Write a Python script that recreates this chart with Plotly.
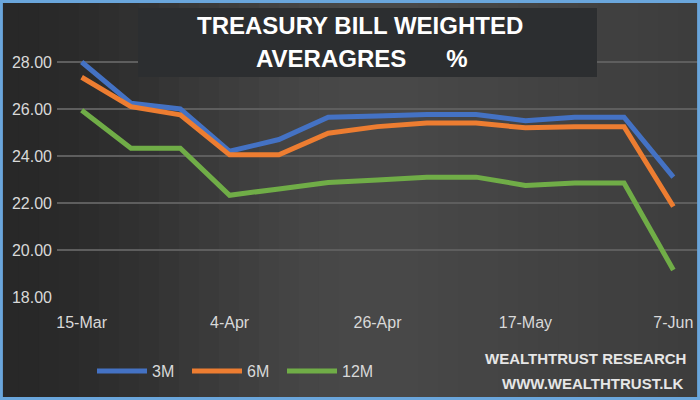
import math
import plotly.graph_objects as go

dates = ["15-Mar", "22-Mar", "29-Mar", "4-Apr", "11-Apr", "19-Apr", "26-Apr",
         "3-May", "10-May", "17-May", "24-May", "31-May", "7-Jun"]
m3 = [28.0, 26.25, 26.0, 24.2, 24.7, 25.65, 25.7, 25.77, 25.77, 25.5, 25.65, 25.65, 23.1]
m6 = [27.35, 26.1, 25.75, 24.05, 24.05, 24.97, 25.25, 25.4, 25.4, 25.2, 25.25, 25.25, 21.85]
m12 = [25.95, 24.33, 24.33, 22.33, 22.6, 22.87, 22.98, 23.1, 23.1, 22.75, 22.85, 22.85, 19.15]
tick_dates = ["15-Mar", "4-Apr", "26-Apr", "17-May", "7-Jun"]
y_ticks = [18, 20, 22, 24, 26, 28]

W, H = 700, 400
FONT = "Liberation Sans, Arial, sans-serif"
TXT = "#d9d9d9"

fig = go.Figure()
series = [("3M", m3, "#4472c4"), ("6M", m6, "#ed7d31"), ("12M", m12, "#70ad47")]
for name, vals, col in series:
    fig.add_trace(go.Scatter(x=dates, y=vals, name=name, mode="lines",
                             line=dict(color=col, width=5)))

# background gradient strips
shapes = []
n = 35
for i in range(n):
    t = (i + 0.5) / n
    v = 0.5 - 0.5 * math.cos(math.pi * min(1.0, t / 0.55)) if t < 0.55 else 1 - 0.35 * (t - 0.55) / 0.45
    c = int(40 + 33 * v)
    shapes.append(dict(type="rect", xref="paper", yref="paper", x0=i / n - 0.002, x1=(i + 1) / n + 0.002,
                       y0=0, y1=1, line=dict(width=0), fillcolor=f"rgb({c},{c},{c})", layer="below"))


def px(x):
    return x / W


def py(y):
    return 1 - y / H


fig.update_layout(
    width=W, height=H,
    margin=dict(l=0, r=0, t=0, b=0),
    paper_bgcolor="#3e3e3e",
    plot_bgcolor="rgba(0,0,0,0)",
    showlegend=True,
    legend=dict(orientation="h", x=px(92), y=py(354), xanchor="left", yanchor="top",
                font=dict(family=FONT, size=16, color=TXT), bgcolor="rgba(0,0,0,0)",
                itemwidth=50, entrywidth=30, entrywidthmode="pixels", tracegroupgap=0),
    font=dict(family=FONT, color=TXT),
)

fig.update_xaxes(domain=[px(57), px(698)], range=[-0.5, 12.5], type="category",
                 tickvals=tick_dates, ticktext=tick_dates, showgrid=False, zeroline=False,
                 showline=False, ticks="", automargin=False, ticklabelstandoff=14,
                 tickfont=dict(family=FONT, size=16, color=TXT))
fig.update_yaxes(domain=[py(297), py(50.25)], range=[18, 28.5], tickvals=y_ticks,
                 ticktext=[f"{v:.2f}" for v in y_ticks], showgrid=True, gridcolor="#5e5e5e",
                 gridwidth=1.5, zeroline=False, showline=False, ticks="", automargin=False,
                 tickfont=dict(family=FONT, size=16, color=TXT), ticklabelstandoff=4)

# title box
shapes.append(dict(type="rect", xref="paper", yref="paper", x0=px(138), x1=px(597),
                   y0=py(77), y1=py(8), line=dict(width=0), fillcolor="#2c2e30", layer="above"))
# border
shapes.append(dict(type="rect", xref="paper", yref="paper", x0=0.002, x1=0.998, y0=0.004, y1=0.996,
                   line=dict(color="#6aa6dc", width=3), fillcolor="rgba(0,0,0,0)", layer="above"))
fig.update_layout(shapes=shapes)

annotations = [
    dict(text="<b>TREASURY BILL WEIGHTED</b>", x=px(360), y=py(26), xref="paper", yref="paper",
         showarrow=False, font=dict(family=FONT, size=24, color="white"), xanchor="center", yanchor="middle"),
    dict(text="<b>AVERAGRES      %</b>", x=px(362), y=py(59), xref="paper", yref="paper",
         showarrow=False, font=dict(family=FONT, size=24, color="white"), xanchor="center", yanchor="middle"),
    dict(text="<b>WEALTHTRUST RESEARCH</b>", x=px(688), y=py(358), xref="paper", yref="paper",
         showarrow=False, font=dict(family=FONT, size=15, color="#e6e6e6"), xanchor="right", yanchor="middle"),
    dict(text="<b>WWW.WEALTHTRUST.LK</b>", x=px(686), y=py(383), xref="paper", yref="paper",
         showarrow=False, font=dict(family=FONT, size=15, color="#e6e6e6"), xanchor="right", yanchor="middle"),
]
fig.update_layout(annotations=annotations)

fig.write_html("out.html", config={"displayModeBar": False},
               post_script="document.body.style.margin='0';document.body.style.overflow='hidden';")
